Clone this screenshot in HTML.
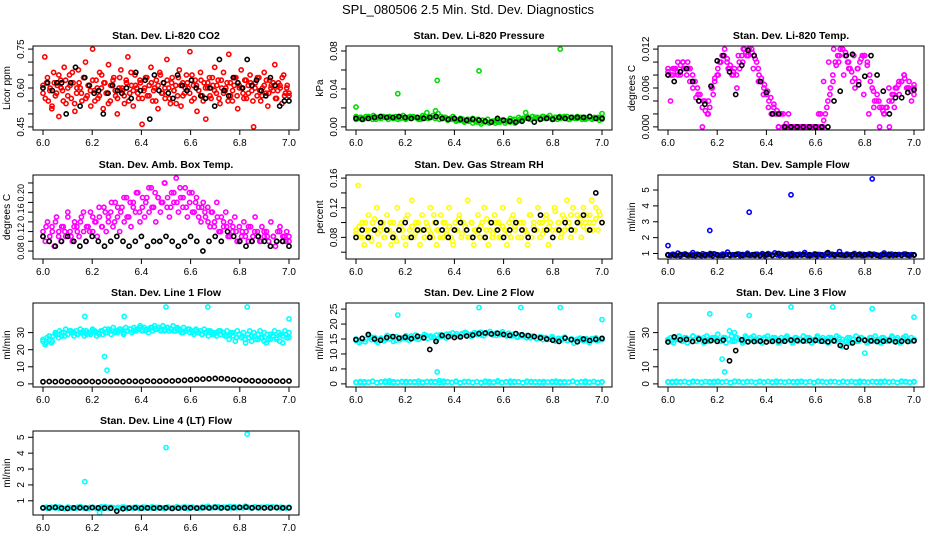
<!DOCTYPE html>
<html><head><meta charset="utf-8"><style>
html,body{margin:0;padding:0;background:#fff}
svg{display:block;font-family:"Liberation Sans",Arial,sans-serif}
</style></head><body>
<svg id="chart" width="936" height="540" viewBox="0 0 936 540">
<text x="468" y="14" text-anchor="middle" font-size="13">SPL_080506  2.5 Min. Std. Dev. Diagnostics</text>
</svg>
<script>
const xTicks = [6.0, 6.2, 6.4, 6.6, 6.8, 7.0];
const xTickLabels = ["6.0", "6.2", "6.4", "6.6", "6.8", "7.0"];

const co2Red = [0.58,0.72,0.62,0.55,0.60,0.52,0.66,0.57,0.61,0.49,0.63,0.59,0.68,0.54,0.60,0.65,0.56,0.62,0.51,0.58,0.67,0.60,0.55,0.64,0.70,0.57,0.61,0.53,0.75,0.59,0.63,0.56,0.66,0.60,0.52,0.62,0.58,0.69,0.55,0.61,0.64,0.57,0.50,0.60,0.67,0.59,0.54,0.63,0.72,0.58,0.61,0.53,0.65,0.60,0.56,0.62,0.46,0.59,0.64,0.57,0.61,0.68,0.55,0.60,0.63,0.52,0.66,0.58,0.62,0.56,0.71,0.60,0.54,0.64,0.59,0.61,0.57,0.67,0.53,0.62,0.58,0.65,0.60,0.74,0.55,0.61,0.63,0.51,0.59,0.66,0.57,0.62,0.48,0.60,0.64,0.56,0.61,0.68,0.58,0.63,0.54,0.60,0.66,0.59,0.62,0.73,0.57,0.55,0.61,0.64,0.52,0.60,0.67,0.58,0.63,0.56,0.61,0.65,0.59,0.45,0.62,0.57,0.64,0.55,0.60,0.66,0.58,0.53,0.63,0.61,0.59,0.69,0.56,0.62,0.60,0.54,0.65,0.58,0.61,0.57];
const co2Red2 = [0.61,0.56,0.64,0.59,0.53,0.62,0.58,0.65,0.60,0.55,0.63,0.57,0.61,0.66,0.54,0.60,0.62,0.58,0.64,0.56,0.61,0.59,0.63,0.55,0.60,0.57,0.65,0.62,0.58,0.54,0.61,0.63,0.59,0.56,0.64,0.60,0.57,0.62,0.55,0.66,0.59,0.61,0.58,0.63,0.56,0.60,0.64,0.57,0.62,0.59,0.55,0.61,0.65,0.58,0.60,0.63,0.56,0.62,0.59,0.54,0.64,0.61,0.57,0.60,0.62,0.58,0.65,0.56,0.61,0.59,0.63,0.55,0.60,0.62,0.57,0.64,0.59,0.61,0.56,0.63,0.58,0.60,0.55,0.62,0.59,0.64,0.57,0.61,0.60,0.56,0.63,0.58,0.62,0.55,0.60,0.64,0.59,0.57,0.61,0.63,0.58,0.60,0.62,0.56,0.59,0.61,0.64,0.57,0.60,0.58];
const co2Black = [0.60,0.62,0.59,0.62,0.62,0.50,0.62,0.68,0.53,0.64,0.61,0.58,0.59,0.50,0.58,0.61,0.59,0.58,0.60,0.56,0.66,0.59,0.63,0.48,0.65,0.59,0.62,0.58,0.56,0.65,0.61,0.59,0.63,0.60,0.57,0.56,0.60,0.53,0.71,0.59,0.57,0.64,0.62,0.60,0.71,0.61,0.63,0.59,0.57,0.64,0.61,0.53,0.55,0.55];

const presGreen = [0.011,0.009,0.010,0.008,0.011,0.009,0.010,0.012,0.008,0.010,0.009,0.011,0.010,0.008,0.010,0.009,0.011,0.010,0.009,0.012,0.008,0.010,0.009,0.011,0.010,0.009,0.008,0.010,0.011,0.009,0.010,0.012,0.017,0.014,0.011,0.009,0.010,0.008,0.009,0.011,0.008,0.007,0.009,0.008,0.006,0.008,0.007,0.009,0.006,0.008,0.005,0.007,0.006,0.008,0.005,0.006,0.004,0.007,0.005,0.006,0.004,0.006,0.005,0.007,0.004,0.006,0.008,0.007,0.009,0.010,0.008,0.011,0.009,0.010,0.008,0.011,0.009,0.010,0.012,0.009,0.010,0.008,0.011,0.010,0.009,0.011,0.008,0.010,0.009,0.011,0.010,0.008,0.010,0.009,0.011,0.008,0.010,0.009,0.007,0.010];
const presGreen2 = [0.008,0.010,0.009,0.011,0.008,0.010,0.009,0.010,0.011,0.009,0.008,0.010,0.009,0.011,0.010,0.008,0.012,0.015,0.010,0.009,0.008,0.010,0.007,0.008,0.006,0.007,0.005,0.006,0.004,0.005,0.003,0.005,0.004,0.006,0.005,0.007,0.006,0.009,0.008,0.010,0.009,0.011,0.008,0.010,0.009,0.011,0.010,0.008,0.010,0.009,0.011,0.008,0.010,0.009,0.010,0.008,0.011,0.009,0.010,0.008];
const presBlack = [0.009,0.008,0.009,0.010,0.011,0.010,0.010,0.011,0.010,0.009,0.010,0.009,0.010,0.011,0.009,0.008,0.009,0.008,0.007,0.008,0.007,0.006,0.005,0.009,0.007,0.006,0.005,0.006,0.009,0.005,0.008,0.009,0.008,0.010,0.009,0.010,0.010,0.010,0.011,0.009,0.009];
const presOutT = [6.0, 6.17, 6.33, 6.5, 6.69, 6.83, 7.0];
const presOutV = [0.021, 0.035, 0.049, 0.059, 0.015, 0.082, 0.014];

const tempMag = [0.009,0.004,0.008,0.009,0.010,0.008,0.010,0.009,0.010,0.009,0.008,0.007,0.006,0.005,0.000,0.004,0.002,0.003,0.006,0.007,0.008,0.010,0.011,0.012,0.010,0.009,0.008,0.009,0.006,0.010,0.011,0.012,0.011,0.012,0.012,0.011,0.010,0.008,0.007,0.006,0.005,0.004,0.002,0.003,0.002,0.000,0.002,0.000,0.000,0.002,0.000,0.000,0.000,0.000,0.000,0.000,0.000,0.000,0.000,0.000,0.000,0.000,0.002,0.000,0.002,0.004,0.006,0.008,0.010,0.011,0.012,0.012,0.011,0.010,0.009,0.007,0.006,0.009,0.010,0.011,0.011,0.010,0.008,0.006,0.004,0.005,0.000,0.003,0.002,0.003,0.000,0.004,0.003,0.006,0.005,0.007,0.008,0.006,0.007,0.004,0.006];
const tempMag2 = [0.008,0.009,0.008,0.010,0.009,0.007,0.005,0.004,0.002,0.005,0.008,0.011,0.009,0.008,0.011,0.012,0.011,0.009,0.007,0.005,0.003,0.002,0.000,0.000,0.000,0.000,0.000,0.000,0.000,0.000,0.002,0.007,0.010,0.012,0.010,0.008,0.009,0.011,0.007,0.005,0.002,0.003,0.004,0.002,0.006,0.005,0.007,0.008,0.006,0.005];
const tempMag3 = [0.0085,0.0080,0.0090,0.0085,0.0095,0.0090,0.0080,0.0070,0.0060,0.0045,0.0040,0.0030,0.0025,0.0040,0.0060,0.0075,0.0090,0.0100,0.0110,0.0105,0.0095,0.0085,0.0080,0.0090,0.0100,0.0115,0.0120,0.0115,0.0105,0.0090,0.0075,0.0065,0.0055,0.0045,0.0035,0.0025,0.0020,0.0020,0.0005,0.0000,0.0000,0.0000,0.0000,0.0000,0.0000,0.0000,0.0000,0.0000,0.0000,0.0000,0.0010,0.0030,0.0050,0.0070,0.0095,0.0110,0.0120,0.0115,0.0100,0.0085,0.0075,0.0090,0.0105,0.0110,0.0095,0.0070,0.0055,0.0040,0.0030,0.0025,0.0030,0.0040,0.0050,0.0060,0.0065,0.0070,0.0075,0.0060,0.0055,0.0065];
const tempBlack = [0.0080,0.0070,0.0085,0.0090,0.0070,0.0040,0.0035,0.0063,0.0102,0.0110,0.0085,0.0050,0.0095,0.0118,0.0110,0.0070,0.0053,0.0020,0.0020,0.0000,0.0000,0.0000,0.0000,0.0000,0.0000,0.0000,0.0000,0.0040,0.0055,0.0110,0.0112,0.0065,0.0078,0.0110,0.0080,0.0055,0.0020,0.0045,0.0045,0.0053,0.0057];

const ambMag = [0.12,0.10,0.14,0.11,0.13,0.09,0.15,0.12,0.10,0.13,0.11,0.16,0.12,0.10,0.14,0.13,0.11,0.15,0.12,0.10,0.13,0.16,0.12,0.14,0.11,0.15,0.13,0.17,0.12,0.14,0.16,0.13,0.18,0.15,0.12,0.17,0.14,0.19,0.15,0.13,0.18,0.16,0.20,0.14,0.17,0.15,0.19,0.16,0.21,0.17,0.14,0.19,0.16,0.18,0.22,0.17,0.15,0.20,0.18,0.23,0.16,0.19,0.17,0.21,0.15,0.18,0.20,0.16,0.19,0.17,0.14,0.18,0.15,0.17,0.13,0.16,0.14,0.18,0.12,0.15,0.13,0.16,0.11,0.14,0.12,0.15,0.10,0.13,0.11,0.14,0.12,0.10,0.13,0.11,0.15,0.12,0.10,0.13,0.11,0.12,0.10,0.14,0.11,0.09,0.12,0.13,0.10,0.11,0.12,0.10];
const ambMag2 = [0.11,0.13,0.10,0.12,0.14,0.11,0.13,0.12,0.15,0.11,0.13,0.12,0.14,0.16,0.13,0.12,0.15,0.14,0.17,0.13,0.16,0.15,0.18,0.14,0.17,0.16,0.19,0.15,0.18,0.17,0.20,0.16,0.19,0.18,0.21,0.17,0.20,0.19,0.18,0.22,0.19,0.17,0.20,0.18,0.21,0.19,0.17,0.20,0.16,0.18,0.15,0.17,0.16,0.14,0.16,0.13,0.15,0.12,0.14,0.13,0.11,0.13,0.12,0.10,0.12,0.11,0.13,0.10,0.12,0.11,0.10,0.12,0.11,0.09,0.11,0.10,0.12,0.11,0.10,0.11];
const ambBlack = [0.11,0.10,0.09,0.10,0.11,0.10,0.09,0.10,0.11,0.10,0.09,0.10,0.11,0.10,0.09,0.10,0.11,0.09,0.10,0.10,0.11,0.10,0.09,0.10,0.11,0.10,0.08,0.10,0.11,0.10,0.12,0.11,0.10,0.09,0.10,0.11,0.10,0.09,0.10,0.10,0.09];

const rhYel = [0.09,0.15,0.08,0.10,0.07,0.09,0.11,0.08,0.10,0.09,0.12,0.07,0.09,0.10,0.08,0.11,0.09,0.07,0.10,0.08,0.12,0.09,0.10,0.08,0.07,0.11,0.09,0.13,0.08,0.10,0.09,0.07,0.11,0.08,0.10,0.09,0.12,0.08,0.10,0.07,0.09,0.11,0.08,0.10,0.09,0.12,0.08,0.07,0.10,0.09,0.11,0.08,0.10,0.09,0.13,0.08,0.10,0.07,0.09,0.11,0.08,0.10,0.12,0.09,0.07,0.10,0.08,0.11,0.09,0.10,0.08,0.12,0.09,0.07,0.10,0.08,0.11,0.09,0.10,0.13,0.08,0.10,0.09,0.07,0.11,0.08,0.10,0.09,0.12,0.08,0.10,0.09,0.11,0.07,0.10,0.08,0.12,0.09,0.10,0.08,0.11,0.09,0.13,0.10,0.08,0.12,0.09,0.11,0.10,0.08,0.12,0.10,0.09,0.11,0.13,0.10,0.12,0.09,0.11,0.10];
const rhYel2 = [0.085,0.095,0.080,0.100,0.090,0.075,0.105,0.085,0.095,0.080,0.090,0.100,0.085,0.075,0.095,0.090,0.105,0.080,0.095,0.085,0.100,0.090,0.080,0.095,0.085,0.110,0.090,0.080,0.100,0.085,0.095,0.075,0.090,0.105,0.085,0.095,0.080,0.100,0.090,0.085,0.095,0.080,0.105,0.090,0.085,0.100,0.080,0.095,0.090,0.085,0.105,0.095,0.080,0.100,0.090,0.085,0.110,0.095,0.090,0.100,0.085,0.105,0.095,0.090,0.115,0.100,0.085,0.105,0.095,0.110,0.090,0.100,0.105,0.095,0.110,0.100,0.090,0.105,0.115,0.100];
const rhBlack = [0.08,0.09,0.08,0.09,0.10,0.09,0.08,0.09,0.10,0.08,0.09,0.09,0.08,0.10,0.09,0.08,0.09,0.10,0.09,0.08,0.09,0.08,0.10,0.09,0.08,0.09,0.10,0.09,0.08,0.09,0.11,0.09,0.08,0.09,0.10,0.09,0.10,0.11,0.09,0.14,0.10];

const flowBlue = [0.92,0.88,0.95,0.90,1.02,0.86,0.93,0.97,0.89,0.91,1.05,0.87,0.94,0.90,0.98,0.88,0.92,1.00,0.86,0.95,0.91,0.89,0.96,0.93,1.08,0.88,0.92,0.90,0.97,0.87,0.94,0.91,1.01,0.89,0.93,0.88,0.95,0.90,0.99,0.86,0.92,0.94,0.89,1.04,0.91,0.88,0.96,0.90,0.93,0.87,1.00,0.92,0.89,0.95,0.91,1.06,0.88,0.93,0.90,0.97,0.86,0.94,0.92,0.89,1.02,0.90,0.95,0.88,0.93,1.12,0.91,0.89,0.96,0.92,0.87,1.00,0.90,0.94,0.88,0.93,0.91,0.98,0.89,0.95,0.90,0.87,0.93,1.03,0.91,0.88,0.96,0.92,0.90,0.94,0.89,0.97,0.91,0.88,0.93,0.90];
const flowBlue2 = [0.90,0.94,0.88,0.92,0.96,0.89,0.91,0.95,0.87,0.93,0.90,0.98,0.88,0.92,0.94,0.89,0.91,0.96,0.88,0.93,0.90,0.95,0.87,0.92,0.99,0.89,0.94,0.90,0.91,0.96,0.88,0.93,0.90,0.95,0.87,0.92,0.94,0.89,0.97,0.91,0.88,0.93,0.90,0.95,0.89,0.92,0.96,0.88,0.91,0.94,0.90,0.87,0.93,0.95,0.89,0.92,0.90,0.96,0.88,0.91];
const flowBlack = [0.92,0.90,0.93,0.91,0.89,0.92,0.90,0.94,0.91,0.88,0.92,0.93,0.90,0.91,0.92,0.89,0.93,0.90,1.00,0.91,0.92,0.90,0.93,0.91,0.95,0.90,1.05,0.92,0.91,0.90,0.93,0.92,0.91,0.94,0.90,0.92,0.91,0.93,0.90,0.92,0.91];
const flowOutT = [6.0, 6.17, 6.33, 6.5, 6.83];
const flowOutV = [1.5, 2.45, 3.6, 4.7, 5.7];

const l1Cyan = [25,23,27,26,24,28,30,29,31,28,30,32,29,31,30,28,31,29,32,30,28,31,30,29,32,31,28,30,31,29,32,30,31,29,33,31,30,32,31,29,33,31,32,30,33,31,32,34,31,33,32,30,33,31,34,32,33,31,34,32,33,31,32,34,31,33,32,30,33,31,32,30,31,29,32,30,31,29,32,30,28,31,29,30,28,31,29,30,28,31,26,30,28,25,31,29,27,30,24,29,31,28,30,26,29,31,27,30,24,26,29,28,31,26,30,29,24,31,27,30];
const l1Cyan2 = [26,24,28,25,29,27,30,28,29,31,30,29,30,31,29,30,31,30,29,31,30,32,31,30,31,32,30,31,32,31,32,33,32,31,32,33,32,33,32,31,33,32,31,32,31,30,31,32,30,31,30,29,30,31,30,29,30,31,30,28,29,30,27,29,28,26,27,25,28,26,27,25,29,26,28,27,25,28,29,27];
const l1Black = [1.2,1.4,1.3,1.5,1.2,1.4,1.3,1.5,1.4,1.2,1.6,1.4,1.5,1.3,1.6,1.5,1.4,1.7,1.5,1.6,1.8,1.7,1.9,2.1,2.4,2.6,2.8,3.0,3.2,3.1,2.9,2.5,2.2,2.0,1.8,1.7,1.6,1.8,1.7,1.6,1.7];
const l1OutT = [6.17, 6.25, 6.26, 6.33, 6.5, 6.67, 6.83, 7.0];
const l1OutV = [39.5, 16, 8, 39.5, 45, 45, 45, 38];

const l2Cyan = [14.5,13.8,15.2,14.1,16.0,14.8,15.5,13.9,15.1,14.4,16.2,15.0,14.2,15.8,14.7,15.3,16.1,14.6,15.4,16.3,14.9,15.7,16.5,15.2,16.0,15.6,14.8,16.4,15.9,15.3,16.6,17.0,16.2,15.8,16.8,17.2,16.4,15.9,17.1,16.5,17.3,16.1,16.8,17.5,16.3,17.0,16.6,17.4,16.2,16.9,16.0,16.7,15.6,16.4,15.9,16.2,15.4,16.0,15.1,15.7,14.8,15.5,14.9,15.8,14.3,15.2,14.7,15.6,14.5,15.0,13.6,14.9,15.3,14.4,15.1,13.8,14.8,15.4,14.6,15.2];
const l2Cyan2 = [15.0,14.2,14.8,15.6,14.4,15.3,14.9,15.8,14.6,15.4,15.1,16.0,15.2,15.7,16.1,15.5,16.3,15.9,16.6,16.0,16.8,16.4,17.0,16.6,16.9,16.3,17.1,16.7,16.2,16.8,16.0,16.5,15.7,16.1,15.4,15.9,15.2,15.6,14.9,15.3,14.7,15.1,14.5,15.0,14.2,14.9,14.6,15.1,14.4,14.8];
const l2Base = [0.5,0.8,0.3,0.6,0.9,0.4,0.7,0.5,1.0,0.3,0.6,0.8,0.4,0.7,0.5,0.9,0.3,0.6,0.8,0.5,1.1,0.4,0.7,0.5,0.9,0.3,0.6,0.8,0.4,0.7,0.5,0.9,0.3,0.6,1.0,0.5,0.7,0.4,0.8,0.6,0.3,0.9,0.5,0.7,0.4,0.8,0.6,0.5,0.9,0.3,0.7,0.5,0.8,0.4,0.6,0.9,0.5,0.7,0.3,0.6];
const l2Base2 = [0.6,0.4,0.7,0.5,0.8,0.4,0.6,0.9,0.5,0.7,0.4,0.6,0.8,0.5,0.7,0.3,0.6,0.8,0.5,0.7,0.4,0.9,0.6,0.5,0.7,0.4,0.8,0.6,0.5,0.7,0.3,0.6,0.8,0.5,0.7,0.4,0.6,0.9,0.5,0.7,0.4,0.6,0.8,0.5,0.7,0.3,0.6,0.8,0.5,0.7,0.4,0.6,0.9,0.5,0.7,0.4,0.6,0.8,0.5,0.7];
const l2Black = [14.8,15.2,16.5,15.0,14.6,15.5,15.8,15.3,15.6,15.1,15.9,15.4,11.5,14.2,16.2,15.8,15.5,15.7,16.0,16.3,16.8,17.0,16.7,16.9,16.5,16.2,16.8,16.4,16.1,15.8,15.4,15.0,14.6,14.2,15.3,14.8,14.1,15.0,14.5,14.9,15.2];
const l2OutT = [6.17, 6.33, 6.5, 6.67, 6.83, 7.0];
const l2OutV = [23, 4, 25.5, 25.5, 25.5, 21.5];

const l3Cyan = [25,27,24,26,28,25,27,24,26,28,25,27,26,24,28,25,27,26,29,25,27,24,26,28,25,27,26,24,28,25,27,26,25,27,24,26,28,25,27,26,24,27,25,28,26,24,27,25,26,28,25,27,24,26,28,25,27,26,24,27,25,28,26,22,25,27,24,26,28,25,27,26,24,27,25,28,26,24,27,25,26,28,25,27,24,26,28,25,27,26];
const l3Cyan2 = [26,25,27,26,25,27,26,28,25,26,27,25,26,27,26,25,27,26,25,27,26,25,27,26,28,26,25,27,26,25,27,26,25,27,26,25,27,26,25,27,26,25,27,26,25,27,26,25,27,26,25,27,26,25,27,26,25,27,26,25,27,26,25,27,26,25,27,26,25,26];
const l3Base = [1.2,0.8,1.5,1.0,1.3,0.7,1.6,1.1,0.9,1.4,1.2,0.8,1.5,1.0,1.3,0.6,1.6,1.1,0.9,1.4,1.2,0.8,1.5,1.0,1.3,0.7,1.6,1.1,0.9,1.4,1.2,0.8,1.5,1.0,1.3,0.7,1.6,1.1,0.9,1.4,1.2,0.8,1.5,1.0,1.3,0.7,1.6,1.1,0.9,1.4,1.2,0.8,1.5,1.0,1.3,0.7,1.6,1.1,0.9,1.4];
const l3Base2 = [1.0,1.3,0.9,1.2,1.4,0.8,1.1,1.3,1.0,1.2,0.9,1.4,1.1,1.0,1.3,0.8,1.2,1.4,1.0,1.1,1.3,0.9,1.2,1.0,1.4,1.1,0.8,1.3,1.0,1.2,0.9,1.4,1.1,1.0,1.3,0.8,1.2,1.4,1.0,1.1,1.3,0.9,1.2,1.0,1.4,1.1,0.8,1.3,1.0,1.2,0.9,1.4,1.1,1.0,1.3,0.8,1.2,1.4,1.0,1.1];
const l3Black = [24.5,27.5,25.8,26.0,24.8,26.2,25.0,25.3,24.9,25.6,13.5,19.5,25.8,24.6,24.8,25.0,24.5,24.9,25.2,25.0,25.6,25.4,25.1,25.3,25.5,25.0,24.7,25.2,22.5,21.5,24.0,26.0,25.5,25.2,24.8,25.0,25.4,24.6,25.0,24.8,25.2];
const l3OutT = [6.17, 6.22, 6.23, 6.25, 6.27, 6.33, 6.5, 6.67, 6.8, 6.83, 7.0];
const l3OutV = [41, 14.5, 7, 31, 30, 40, 45, 45, 18, 44, 39];

const l4Cyan = [0.55,0.60,0.52,0.58,0.62,0.54,0.57,0.50,0.61,0.56,0.53,0.59,0.64,0.55,0.51,0.58,0.60,0.54,0.57,0.52,0.62,0.56,0.59,0.53,0.58,0.55,0.61,0.50,0.57,0.54,0.60,0.56,0.52,0.59,0.55,0.62,0.53,0.58,0.56,0.51,0.60,0.54,0.57,0.63,0.55,0.59,0.52,0.58,0.61,0.56,0.54,0.60,0.57,0.65,0.55,0.62,0.58,0.53,0.60,0.56,0.64,0.59,0.55,0.61,0.57,0.66,0.58,0.54,0.62,0.56,0.60,0.57,0.63,0.55,0.59,0.61,0.56,0.58,0.54,0.60];
const l4Cyan2 = [0.57,0.53,0.59,0.55,0.61,0.52,0.58,0.56,0.54,0.60,0.57,0.53,0.59,0.55,0.62,0.54,0.58,0.56,0.52,0.60,0.57,0.55,0.59,0.53,0.61,0.56,0.54,0.58,0.57,0.55,0.60,0.53,0.59,0.56,0.62,0.54,0.58,0.57,0.55,0.61,0.56,0.59,0.63,0.57,0.60,0.55,0.62,0.58,0.56,0.60,0.57,0.61,0.55,0.59,0.58,0.62,0.56,0.60,0.57,0.59];
const l4Black = [0.55,0.56,0.58,0.54,0.52,0.55,0.56,0.54,0.57,0.55,0.54,0.53,0.35,0.50,0.54,0.56,0.53,0.55,0.54,0.55,0.56,0.52,0.54,0.55,0.56,0.54,0.57,0.55,0.58,0.56,0.55,0.57,0.58,0.60,0.56,0.57,0.55,0.56,0.57,0.55,0.56];
const l4OutT = [6.17, 6.23, 6.5, 6.83];
const l4OutV = [2.2, 0.25, 4.35, 5.2];

const NS = "http://www.w3.org/2000/svg";
const svg = document.getElementById("chart");
const colLeft = [33, 346, 658];
const rowTop = [46, 175, 303, 431];
const W = 266, H = 84;

function mk(tag, attrs, parent){
  const e = document.createElementNS(NS, tag);
  for (const k in attrs) e.setAttribute(k, attrs[k]);
  parent.appendChild(e);
  return e;
}
function evenTimes(n){ const t=[]; for(let i=0;i<n;i++) t.push(6 + i/(n-1)); return t; }

function panel(p){
  const L = colLeft[p.col], T = rowTop[p.row];
  const g = mk("g", {}, svg);
  
  
  const xs = t => L + 10 + (t - 6) * (W - 20);
  const a = p.ylim[0], b = p.ylim[1], d = b - a;
  const ys = v => T + H - H * ((v - (a - 0.04*d)) / (1.08*d));
  p.series.forEach(s => {
    const sg = mk("g", {fill:"none", stroke:s.color, "stroke-width":1.6}, g);
    
    
    const ts = s.t || evenTimes(s.v.length);
    s.v.forEach((v,i) => {
      const c = mk("circle", {cx:xs(ts[i]).toFixed(1), cy:ys(v).toFixed(1), r:2.1}, sg);
      
      
    });
  });
  const box = mk("rect", {x:L, y:T, width:W, height:H, fill:"none", stroke:"#000", "stroke-width":1}, g);
  
  
  const tt = mk("text", {x:L + W/2, y:T - 7, "text-anchor":"middle", "font-size":10.5, "font-weight":"bold"}, g);
  tt.textContent = p.title;
  
  
  const xa = mk("g", {stroke:"#000"}, g);
  
  
  mk("line", {x1:xs(6), x2:xs(7), y1:T+H, y2:T+H}, xa);
  xTicks.forEach((t,i) => {
    mk("line", {x1:xs(t), x2:xs(t), y1:T+H, y2:T+H+5}, xa);
    const lb = mk("text", {x:xs(t), y:T+H+16, "text-anchor":"middle", "font-size":10, stroke:"none", fill:"#000"}, xa);
    lb.textContent = xTickLabels[i];
    
    
  });
  const ya = mk("g", {stroke:"#000"}, g);
  
  
  mk("line", {x1:L, x2:L, y1:ys(p.ticks[0]), y2:ys(p.ticks[p.ticks.length-1])}, ya);
  p.ticks.forEach(v => {
    mk("line", {x1:L-5, x2:L, y1:ys(v), y2:ys(v)}, ya);
  });
  p.labels.forEach(v => {
    const y = ys(v);
    const lb = mk("text", {x:L-9, y:y, "text-anchor":"middle", "font-size":p.fs || 10, stroke:"none", fill:"#000", transform:`rotate(-90 ${L-9} ${y})`}, ya);
    lb.textContent = p.fmt(v);
    
    
  });
  const yl = mk("text", {x:L-23, y:T+H/2, "text-anchor":"middle", "font-size":10, transform:`rotate(-90 ${L-23} ${T+H/2})`}, g);
  yl.textContent = p.ylab;
  
  
}

const f2 = v => v.toFixed(2), f3 = v => v.toFixed(3), f0 = v => v.toFixed(0);
panel({name:"panel-co2", col:0,row:0,title:"Stan. Dev. Li-820 CO2",ylab:"Licor ppm",ylim:[0.45,0.75],
  ticks:[0.45,0.50,0.55,0.60,0.65,0.70,0.75],labels:[0.45,0.60,0.75],fmt:f2,
  series:[{name:"co2-red",v:co2Red,color:"#ff0000"},{name:"co2-red-2",v:co2Red2,color:"#ff0000"},{name:"co2-black",v:co2Black,color:"#000"}]});
panel({name:"panel-pressure", col:1,row:0,title:"Stan. Dev. Li-820 Pressure",ylab:"kPa",ylim:[0,0.082],
  ticks:[0,0.02,0.04,0.06,0.08],labels:[0,0.04,0.08],fmt:f2,
  series:[{name:"pressure-green",v:presGreen,color:"#00dd00"},{name:"pressure-green-2",v:presGreen2,color:"#00dd00"},{name:"pressure-outliers",v:presOutV,t:presOutT,color:"#00dd00"},{name:"pressure-black",v:presBlack,color:"#000"}]});
panel({name:"panel-temp", col:2,row:0,title:"Stan. Dev. Li-820 Temp.",ylab:"degrees C",ylim:[0,0.012],
  ticks:[0,0.002,0.004,0.006,0.008,0.010,0.012],labels:[0,0.006,0.012],fmt:f3,
  series:[{name:"temp-magenta",v:tempMag,color:"#ff00ff"},{name:"temp-magenta-2",v:tempMag2,color:"#ff00ff"},{name:"temp-magenta-3",v:tempMag3,color:"#ff00ff"},{name:"temp-black",v:tempBlack,color:"#000"}]});
panel({name:"panel-amb-temp", col:0,row:1,title:"Stan. Dev. Amb. Box Temp.",ylab:"degrees C",ylim:[0.07,0.23],fs:9,
  ticks:[0.08,0.10,0.12,0.14,0.16,0.18,0.20,0.22],labels:[0.08,0.12,0.16,0.20],fmt:f2,
  series:[{name:"amb-magenta",v:ambMag,color:"#ff00ff"},{name:"amb-magenta-2",v:ambMag2,color:"#ff00ff"},{name:"amb-black",v:ambBlack,color:"#000"}]});
panel({name:"panel-rh", col:1,row:1,title:"Stan. Dev. Gas Stream RH",ylab:"percent",ylim:[0.055,0.16],
  ticks:[0.06,0.08,0.10,0.12,0.14,0.16],labels:[0.08,0.12,0.16],fmt:f2,
  series:[{name:"rh-yellow",v:rhYel,color:"#ffff00"},{name:"rh-yellow-2",v:rhYel2,color:"#ffff00"},{name:"rh-black",v:rhBlack,color:"#000"}]});
panel({name:"panel-sample-flow", col:2,row:1,title:"Stan. Dev. Sample Flow",ylab:"ml/min",ylim:[0.85,5.75],
  ticks:[1,2,3,4,5],labels:[1,2,3,4,5],fmt:f0,
  series:[{name:"flow-blue",v:flowBlue,color:"#0000ff"},{name:"flow-blue-2",v:flowBlue2,color:"#0000ff"},{name:"flow-outliers",v:flowOutV,t:flowOutT,color:"#0000ff"},{name:"flow-black",v:flowBlack,color:"#000"}]});
panel({name:"panel-line1", col:0,row:2,title:"Stan. Dev. Line 1 Flow",ylab:"ml/min",ylim:[0,45.5],
  ticks:[0,10,20,30],labels:[0,10,20,30],fmt:f0,
  series:[{name:"line1-cyan",v:l1Cyan,color:"#00ffff"},{name:"line1-cyan-2",v:l1Cyan2,color:"#00ffff"},{name:"line1-outliers",v:l1OutV,t:l1OutT,color:"#00ffff"},{name:"line1-black",v:l1Black,color:"#000"}]});
panel({name:"panel-line2", col:1,row:2,title:"Stan. Dev. Line 2 Flow",ylab:"ml/min",ylim:[0,26],
  ticks:[0,5,10,15,20,25],labels:[0,5,10,15,20,25],fmt:f0,
  series:[{name:"line2-cyan",v:l2Cyan,color:"#00ffff"},{name:"line2-cyan-2",v:l2Cyan2,color:"#00ffff"},{name:"line2-base",v:l2Base,color:"#00ffff"},{name:"line2-base-2",v:l2Base2,color:"#00ffff"},{name:"line2-outliers",v:l2OutV,t:l2OutT,color:"#00ffff"},{name:"line2-black",v:l2Black,color:"#000"}]});
panel({name:"panel-line3", col:2,row:2,title:"Stan. Dev. Line 3 Flow",ylab:"ml/min",ylim:[0,45.5],
  ticks:[0,10,20,30],labels:[0,10,30],fmt:f0,
  series:[{name:"line3-cyan",v:l3Cyan,color:"#00ffff"},{name:"line3-cyan-2",v:l3Cyan2,color:"#00ffff"},{name:"line3-base",v:l3Base,color:"#00ffff"},{name:"line3-base-2",v:l3Base2,color:"#00ffff"},{name:"line3-outliers",v:l3OutV,t:l3OutT,color:"#00ffff"},{name:"line3-black",v:l3Black,color:"#000"}]});
panel({name:"panel-line4", col:0,row:3,title:"Stan. Dev. Line 4 (LT) Flow",ylab:"ml/min",ylim:[0.3,5.2],
  ticks:[1,2,3,4,5],labels:[1,2,3,4,5],fmt:f0,
  series:[{name:"line4-cyan",v:l4Cyan,color:"#00ffff"},{name:"line4-cyan-2",v:l4Cyan2,color:"#00ffff"},{name:"line4-outliers",v:l4OutV,t:l4OutT,color:"#00ffff"},{name:"line4-black",v:l4Black,color:"#000"}]});
</script>
</body></html>
